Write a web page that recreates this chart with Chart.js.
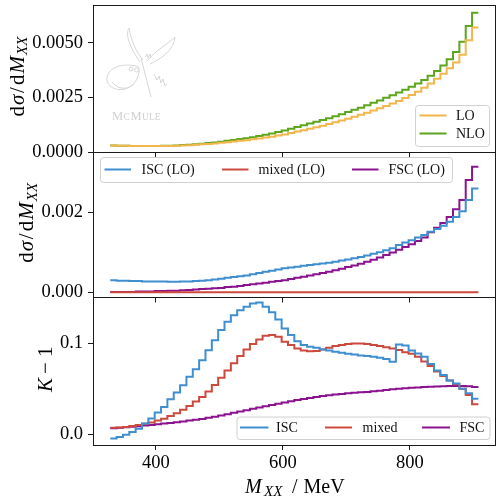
<!DOCTYPE html>
<html lang="en">
<head>
<meta charset="UTF-8">
<title>M_XX distribution</title>
<style>
  html, body { margin: 0; padding: 0; background: #fff; }
  #wrap { position: relative; width: 497px; height: 499px; }
  #wrap canvas { position: absolute; left: 0; top: 0; }
</style>
<script src="https://cdn.jsdelivr.net/npm/chart.js@4"></script>
</head>
<body>
<div id="wrap">
  <canvas id="top" width="497" height="499"></canvas>
  <canvas id="mid" width="497" height="499"></canvas>
  <canvas id="bot" width="497" height="499"></canvas>
</div>
<script>
// bin edges of M_XX in MeV (58 bins)
const binEdges = [
  328, 338, 348, 358, 368, 378, 388, 398, 408, 418, 428, 438, 448, 458, 468,
  478, 488, 498, 508, 518, 528, 538, 548, 558, 568, 578, 588, 598, 608, 618,
  628, 638, 648, 658, 668, 678, 688, 698, 708, 718, 728, 738, 748, 758, 768,
  778, 788, 798, 808, 818, 828, 838, 848, 858, 868, 878, 888, 898, 908
];

// top panel: dsigma/dM_XX
const loValues = [
  0.00030, 0.00029, 0.00029, 0.00028, 0.00028, 0.00028, 0.00027, 0.00027, 0.00028, 0.00028,
  0.00029, 0.00030, 0.00031, 0.00033, 0.00035, 0.00037, 0.00039, 0.00042, 0.00045, 0.00048,
  0.00051, 0.00054, 0.00058, 0.00062, 0.00066, 0.00070, 0.00075, 0.00080, 0.00087, 0.00094,
  0.00100, 0.00106, 0.00113, 0.00120, 0.00128, 0.00136, 0.00144, 0.00152, 0.00161, 0.00170,
  0.00180, 0.00190, 0.00200, 0.00211, 0.00222, 0.00234, 0.00247, 0.00261, 0.00276, 0.00294,
  0.00314, 0.00335, 0.00358, 0.00383, 0.00410, 0.00445, 0.00512, 0.00570
];
const nloValues = [
  0.00030, 0.00029, 0.00029, 0.00028, 0.00028, 0.00028, 0.00028, 0.00028, 0.00029, 0.00029,
  0.00030, 0.00032, 0.00033, 0.00035, 0.00038, 0.00041, 0.00044, 0.00047, 0.00051, 0.00055,
  0.00059, 0.00063, 0.00068, 0.00073, 0.00079, 0.00085, 0.00092, 0.00099, 0.00106, 0.00114,
  0.00122, 0.00130, 0.00138, 0.00146, 0.00155, 0.00164, 0.00173, 0.00183, 0.00193, 0.00203,
  0.00214, 0.00225, 0.00236, 0.00248, 0.00260, 0.00272, 0.00285, 0.00299, 0.00314, 0.00330,
  0.00349, 0.00371, 0.00396, 0.00425, 0.00458, 0.00505, 0.00577, 0.00638
];

// middle panel: LO split into ISC, mixed, FSC
const iscLoValues = [
  0.00030, 0.00029, 0.00029, 0.00028, 0.00028, 0.00027, 0.00027, 0.00027, 0.00027, 0.00026,
  0.00026, 0.00027, 0.00027, 0.00028, 0.00029, 0.00030, 0.00032, 0.00034, 0.00036, 0.00038,
  0.00040, 0.00042, 0.00045, 0.00048, 0.00051, 0.00054, 0.00057, 0.00060, 0.00062, 0.00064,
  0.00066, 0.00068, 0.00070, 0.00072, 0.00074, 0.00076, 0.00079, 0.00082, 0.00085, 0.00088,
  0.00092, 0.00096, 0.00100, 0.00105, 0.00110, 0.00118, 0.00124, 0.00130, 0.00137, 0.00143,
  0.00151, 0.00158, 0.00166, 0.00176, 0.00188, 0.00202, 0.00230, 0.00259
];
const mixedLoValues = [
  0.000003, 0.000003, 0.000003, 0.000003, 0.000003, 0.000003, 0.000003, 0.000003, 0.000003, 0.000003,
  0.000003, 0.000003, 0.000003, 0.000003, 0.000003, 0.000003, 0.000003, 0.000003, 0.000003, 0.000003,
  0.000003, 0.000003, 0.000003, 0.000003, 0.000003, 0.000003, 0.000003, 0.000003, 0.000003, 0.000003,
  0.000003, 0.000003, 0.000003, 0.000003, 0.000003, 0.000003, 0.000003, 0.000003, 0.000003, 0.000003,
  0.000003, 0.000003, 0.000003, 0.000003, 0.000003, 0.000003, 0.000003, 0.000003, 0.000003, 0.000003,
  0.000003, 0.000003, 0.000003, 0.000003, 0.000003, 0.000003, 0.000003, 0.000003
];
const fscLoValues = [
  0.00001, 0.00001, 0.00001, 0.00001, 0.00002, 0.00002, 0.00002, 0.00003, 0.00003, 0.00004,
  0.00004, 0.00005, 0.00006, 0.00007, 0.00008, 0.00009, 0.00010, 0.00011, 0.00013, 0.00014,
  0.00016, 0.00018, 0.00020, 0.00022, 0.00024, 0.00026, 0.00028, 0.00030, 0.00033, 0.00036,
  0.00039, 0.00042, 0.00045, 0.00048, 0.00051, 0.00055, 0.00059, 0.00063, 0.00067, 0.00071,
  0.00076, 0.00081, 0.00087, 0.00093, 0.00099, 0.00106, 0.00113, 0.00120, 0.00128, 0.00137,
  0.00150, 0.00161, 0.00173, 0.00188, 0.00207, 0.00230, 0.00280, 0.00313
];

// bottom panel: K - 1
const iscKValues = [
  -0.0047, -0.0030, -0.0004, 0.0026, 0.0062, 0.0117, 0.0172, 0.0238, 0.0300, 0.0385,
  0.0458, 0.0538, 0.0630, 0.0714, 0.0813, 0.0923, 0.1033, 0.1143, 0.1235, 0.1305,
  0.1360, 0.1400, 0.1435, 0.1445, 0.1400, 0.1340, 0.1260, 0.1160, 0.1090, 0.1020,
  0.0980, 0.0960, 0.0950, 0.0930, 0.0920, 0.0905, 0.0895, 0.0885, 0.0875, 0.0865,
  0.0858, 0.0850, 0.0840, 0.0825, 0.0795, 0.0985, 0.0975, 0.0920, 0.0887, 0.0850,
  0.0770, 0.0700, 0.0650, 0.0590, 0.0557, 0.0500, 0.0450, 0.0390
];
const mixedKValues = [
  0.0073, 0.0075, 0.0080, 0.0090, 0.0102, 0.0115, 0.0130, 0.0150, 0.0170, 0.0200,
  0.0230, 0.0270, 0.0310, 0.0360, 0.0410, 0.0470, 0.0540, 0.0620, 0.0700, 0.0780,
  0.0860, 0.0930, 0.0990, 0.1040, 0.1080, 0.1090, 0.1070, 0.1015, 0.0980, 0.0940,
  0.0920, 0.0910, 0.0915, 0.0930, 0.0950, 0.0970, 0.0980, 0.0990, 0.0995, 0.0995,
  0.0990, 0.0980, 0.0970, 0.0955, 0.0940, 0.0925, 0.0900, 0.0885, 0.0850, 0.0800,
  0.0750, 0.0690, 0.0640, 0.0590, 0.0550, 0.0500, 0.0430, 0.0330
];
const fscKValues = [
  0.0066, 0.0071, 0.0077, 0.0083, 0.0089, 0.0096, 0.0103, 0.0110, 0.0117, 0.0125,
  0.0133, 0.0141, 0.0150, 0.0159, 0.0169, 0.0181, 0.0193, 0.0206, 0.0221, 0.0236,
  0.0251, 0.0265, 0.0279, 0.0293, 0.0307, 0.0321, 0.0335, 0.0348, 0.0362, 0.0375,
  0.0387, 0.0398, 0.0409, 0.0419, 0.0428, 0.0436, 0.0443, 0.0449, 0.0455, 0.0460,
  0.0465, 0.0472, 0.0479, 0.0487, 0.0494, 0.0500, 0.0505, 0.0510, 0.0514, 0.0518,
  0.0522, 0.0525, 0.0528, 0.0530, 0.0531, 0.0531, 0.0528, 0.0518
];

// ticks
const xTicks = [400, 600, 800];
const topYTicks = [0, 0.0025, 0.005];
const midYTicks = [0, 0.002];
const botYTicks = [0, 0.1];

const colors = {
  lo: '#f2b64c', nlo: '#5ca51c',
  isc: '#3f8fd0', mixed: '#cc4a3d', fsc: '#8c138f'
};

const serif = '"Liberation Serif", "Times New Roman", serif';
const W = 497, H = 499;

// histogram outline: each value holds until the next edge
function steps(values) {
  const pts = values.map((v, i) => ({ x: binEdges[i], y: v }));
  pts.push({ x: binEdges[values.length], y: values[values.length - 1] });
  return pts;
}

// draw a run of text pieces centred on (cx, cy), optionally rotated
function drawPieces(ctx, pieces, cx, cy, angle) {
  const total = pieces.reduce((s, p) => s + p.adv, 0);
  ctx.save();
  ctx.translate(cx, cy);
  ctx.rotate(angle);
  ctx.fillStyle = '#000';
  ctx.textAlign = 'left';
  ctx.textBaseline = 'alphabetic';
  let x = -total / 2;
  for (const p of pieces) {
    ctx.font = (p.italic ? 'italic ' : '') + p.size + 'px ' + serif;
    ctx.fillText(p.t, x, p.dy || 0);
    x += p.adv;
  }
  ctx.restore();
}

const dsigmaLabel = [
  { t: 'd', size: 21, adv: 11.5 },
  { t: 'σ', size: 21, italic: true, adv: 12 },
  { t: '/', size: 21, adv: 8 },
  { t: 'd', size: 21, adv: 11.5 },
  { t: 'M', size: 21, italic: true, adv: 18.5 },
  { t: 'XX', size: 15, italic: true, adv: 18.5, dy: 3.5 }
];
const kLabel = [
  { t: 'K', size: 21, italic: true, adv: 18 },
  { t: '−', size: 21, adv: 17 },
  { t: '1', size: 21, adv: 10.5 }
];
const xLabel = [
  { t: 'M', size: 20, italic: true, adv: 19 },
  { t: 'XX', size: 15, italic: true, adv: 28, dy: 3 },
  { t: '/', size: 20, adv: 11.5 },
  { t: 'MeV', size: 20, adv: 39.5 }
];

function roundRect(ctx, x, y, w, h, r) {
  ctx.beginPath();
  ctx.moveTo(x + r, y);
  ctx.lineTo(x + w - r, y);
  ctx.quadraticCurveTo(x + w, y, x + w, y + r);
  ctx.lineTo(x + w, y + h - r);
  ctx.quadraticCurveTo(x + w, y + h, x + w - r, y + h);
  ctx.lineTo(x + r, y + h);
  ctx.quadraticCurveTo(x, y + h, x, y + h - r);
  ctx.lineTo(x, y + r);
  ctx.quadraticCurveTo(x, y, x + r, y);
  ctx.closePath();
}

// faint McMule logo behind the top panel
function drawLogo(ctx) {
  ctx.save();
  ctx.strokeStyle = '#d6d6d6';
  ctx.lineWidth = 1;
  ctx.beginPath();
  ctx.moveTo(140, 62);
  ctx.bezierCurveTo(133, 52, 124, 36, 129, 28);
  ctx.bezierCurveTo(131, 40, 136, 52, 143, 60);
  ctx.moveTo(147, 61);
  ctx.bezierCurveTo(156, 50, 168, 44, 175, 37);
  ctx.bezierCurveTo(174, 49, 163, 58, 150, 64);
  ctx.moveTo(139, 67);
  ctx.bezierCurveTo(124, 62, 108, 67, 107, 78);
  ctx.bezierCurveTo(106, 88, 120, 93, 130, 87);
  ctx.bezierCurveTo(136, 83, 140, 75, 139, 67);
  ctx.moveTo(112, 82);
  ctx.bezierCurveTo(118, 90, 128, 90, 134, 84);
  ctx.moveTo(141, 58);
  ctx.lineTo(151, 97);
  ctx.moveTo(154, 74);
  ctx.lineTo(157, 80); ctx.lineTo(159, 76); ctx.lineTo(161, 83);
  ctx.lineTo(163, 79); ctx.lineTo(165, 86); ctx.lineTo(167, 84);
  ctx.moveTo(145, 57);
  ctx.lineTo(147, 54); ctx.lineTo(148, 58); ctx.lineTo(150, 54); ctx.lineTo(151, 58);
  ctx.stroke();
  ctx.beginPath();
  ctx.arc(131, 69, 2, 0, Math.PI * 2);
  ctx.moveTo(138.5, 70);
  ctx.arc(136.5, 70, 2, 0, Math.PI * 2);
  ctx.stroke();
  ctx.fillStyle = '#d0d0d0';
  ctx.textBaseline = 'alphabetic';
  ctx.textAlign = 'left';
  let x = 112;
  [['M', 12.5], ['C', 9.5], ['M', 12.5], ['ULE', 9.5]].forEach(([t, s]) => {
    ctx.font = s + 'px ' + serif;
    ctx.fillText(t, x, 120);
    x += ctx.measureText(t).width + 0.5;
  });
  ctx.restore();
}

const panelPlugin = {
  id: 'panel',
  beforeDatasetsDraw(chart, args, opts) {
    if (opts.logo) drawLogo(chart.ctx);
  },
  afterDatasetsDraw(chart, args, opts) {
    const ctx = chart.ctx;
    const a = chart.chartArea;
    ctx.save();
    // frame
    ctx.strokeStyle = '#1a1a1a';
    ctx.lineWidth = 1;
    const l = Math.floor(a.left) + 0.5, t = Math.floor(a.top) + 0.5;
    const r = Math.floor(a.right) - 0.5, b = Math.floor(a.bottom) + 0.5;
    ctx.strokeRect(l, t, r - l, b - t);
    // legend
    const lg = opts.legend;
    roundRect(ctx, lg.box[0] + 0.5, lg.box[1] + 0.5, lg.box[2], lg.box[3], 3);
    ctx.fillStyle = 'rgba(255,255,255,0.8)';
    ctx.fill();
    ctx.strokeStyle = '#d0d0d0';
    ctx.stroke();
    ctx.font = '14px ' + serif;
    ctx.textBaseline = 'middle';
    ctx.textAlign = 'left';
    lg.entries.forEach((e, i) => {
      const ds = chart.data.datasets[i];
      ctx.strokeStyle = ds.borderColor;
      ctx.lineWidth = 2;
      ctx.beginPath();
      ctx.moveTo(e[0], e[2]);
      ctx.lineTo(e[1], e[2]);
      ctx.stroke();
      ctx.fillStyle = '#111';
      ctx.fillText(ds.label, e[3], e[2] + 0.5);
    });
    ctx.restore();
  },
  afterDraw(chart, args, opts) {
    const ctx = chart.ctx;
    drawPieces(ctx, opts.yTitle, opts.yTitleX, (chart.chartArea.top + chart.chartArea.bottom) / 2 - 2, -Math.PI / 2);
    if (opts.xTitle) drawPieces(ctx, opts.xTitle, 294, 492.5, 0);
  }
};

function makePanel(id, p) {
  const tickFont = { family: serif, size: 18.5 };
  return new Chart(document.getElementById(id), {
    type: 'line',
    data: {
      datasets: p.series.map(s => ({
        label: s.label,
        data: steps(s.values),
        borderColor: s.color,
        borderWidth: 2,
        stepped: 'before',
        fill: false,
        pointRadius: 0
      }))
    },
    options: {
      responsive: false,
      animation: false,
      events: [],
      layout: { padding: { left: 0, right: 0.5, top: p.top, bottom: H - p.bottom - p.xAxisH } },
      plugins: {
        legend: { display: false },
        tooltip: { enabled: false },
        panel: { legend: p.legend, yTitle: p.yTitle, yTitleX: p.yTitleX, xTitle: p.xTitle, logo: p.logo }
      },
      scales: {
        x: {
          type: 'linear',
          min: 300.8,
          max: 936.5,
          afterBuildTicks: ax => { ax.ticks = xTicks.map(v => ({ value: v })); },
          afterFit: ax => { ax.height = p.xAxisH; ax.paddingLeft = 0; ax.paddingRight = 0; },
          grid: { drawOnChartArea: false, drawTicks: true, tickLength: 5, color: '#1a1a1a', lineWidth: 1 },
          border: { display: false },
          ticks: {
            display: p.showX,
            font: tickFont,
            color: '#000',
            padding: 2,
            maxRotation: 0,
            autoSkip: false,
            callback: v => String(v)
          }
        },
        y: {
          min: p.yMin,
          max: p.yMax,
          afterBuildTicks: ax => { ax.ticks = p.yTicks.map(v => ({ value: v })); },
          afterFit: ax => { ax.width = 93; ax.paddingTop = 0; ax.paddingBottom = 0; },
          grid: { drawOnChartArea: false, drawTicks: true, tickLength: 5, color: '#1a1a1a', lineWidth: 1 },
          border: { display: false },
          ticks: {
            font: tickFont,
            color: '#000',
            padding: 5,
            autoSkip: false,
            callback: v => v.toFixed(p.digits)
          }
        }
      }
    },
    plugins: [panelPlugin]
  });
}

makePanel('top', {
  top: 5, bottom: 152, xAxisH: 8, showX: false,
  yMin: 0, yMax: 0.00673, yTicks: topYTicks, digits: 4,
  yTitle: dsigmaLabel, yTitleX: 23.5, logo: true,
  series: [
    { label: 'LO', values: loValues, color: colors.lo },
    { label: 'NLO', values: nloValues, color: colors.nlo }
  ],
  legend: {
    box: [415, 105, 74, 41],
    entries: [[419.5, 446.5, 115.5, 456], [419.5, 446.5, 133.5, 456]]
  }
});

makePanel('mid', {
  top: 152, bottom: 297.5, xAxisH: 8, showX: false,
  yMin: -0.00013, yMax: 0.0035, yTicks: midYTicks, digits: 3,
  yTitle: dsigmaLabel, yTitleX: 33,
  series: [
    { label: 'ISC (LO)', values: iscLoValues, color: colors.isc },
    { label: 'mixed (LO)', values: mixedLoValues, color: colors.mixed },
    { label: 'FSC (LO)', values: fscLoValues, color: colors.fsc }
  ],
  legend: {
    box: [100, 157, 352, 25],
    entries: [[104.5, 131, 169.5, 141.5], [222, 248.5, 169.5, 258.5], [352, 378.5, 169.5, 388.5]]
  }
});

makePanel('bot', {
  top: 297.5, bottom: 445, xAxisH: 54, showX: true,
  yMin: -0.01176, yMax: 0.1501, yTicks: botYTicks, digits: 1,
  yTitle: kLabel, yTitleX: 52, xTitle: xLabel,
  series: [
    { label: 'ISC', values: iscKValues, color: colors.isc },
    { label: 'mixed', values: mixedKValues, color: colors.mixed },
    { label: 'FSC', values: fscKValues, color: colors.fsc }
  ],
  legend: {
    box: [236.5, 416.5, 253, 22.5],
    entries: [[240, 268.5, 427.5, 276], [325, 352, 427.5, 362.5], [422, 450, 427.5, 459.5]]
  }
});
</script>
</body>
</html>
